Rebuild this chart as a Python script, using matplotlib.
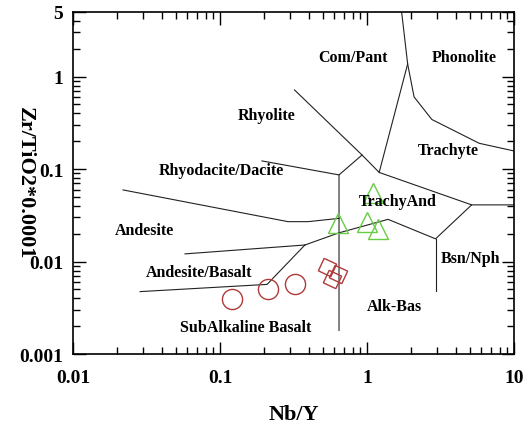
"""Winchester & Floyd Zr/TiO2 vs Nb/Y discrimination diagram."""
import matplotlib
matplotlib.use("Agg")
import matplotlib.pyplot as plt

# field boundaries (Nb/Y, Zr/TiO2*0.0001)
phon_x = [1.72, 1.89, 2.09, 2.76, 5.8, 10.0]
phon_y = [5.0, 1.37, 0.603, 0.344, 0.19, 0.157]
compant_x = [1.89, 1.21]
compant_y = [1.37, 0.092]
rhyo_x = [0.321, 0.925, 1.21, 5.15, 10.0]
rhyo_y = [0.718, 0.142, 0.092, 0.041, 0.041]
trachyand_x = [0.925, 0.645, 0.645]
trachyand_y = [0.142, 0.0865, 0.0018]
rhyodac_x = [0.193, 0.645]
rhyodac_y = [0.1225, 0.0865]
andes_x = [0.0219, 0.290, 0.397, 0.645]
andes_y = [0.0595, 0.0270, 0.0270, 0.0293]
andbas_x = [0.0578, 0.378]
andbas_y = [0.0121, 0.0151]
alkbas_x = [0.378, 0.642, 1.39, 2.925, 5.15]
alkbas_y = [0.0151, 0.0204, 0.0286, 0.0176, 0.041]
bsnnph_x = [2.925, 2.925]
bsnnph_y = [0.0176, 0.00482]
subalk_x = [0.0286, 0.209, 0.378]
subalk_y = [0.00473, 0.00566, 0.0151]

boundaries = [
    (phon_x, phon_y), (compant_x, compant_y), (rhyo_x, rhyo_y),
    (trachyand_x, trachyand_y), (rhyodac_x, rhyodac_y), (andes_x, andes_y),
    (andbas_x, andbas_y), (alkbas_x, alkbas_y), (bsnnph_x, bsnnph_y),
    (subalk_x, subalk_y),
]

# samples
circle_x = [0.120, 0.213, 0.324]
circle_y = [0.00394, 0.00506, 0.00573]
diamond_x = [0.535, 0.635, 0.578]
diamond_y = [0.00875, 0.00736, 0.00641]
tri_x = [0.630, 0.995, 1.194, 1.104]
tri_y = [0.0262, 0.0270, 0.0225, 0.0545]

# field names
field_names = ["Com/Pant", "Phonolite", "Rhyolite", "Trachyte",
               "Rhyodacite/Dacite", "TrachyAnd", "Andesite", "Andesite/Basalt",
               "Bsn/Nph", "Alk-Bas", "SubAlkaline Basalt"]
field_x = [0.804, 4.62, 0.206, 3.56, 0.1016, 1.625, 0.0304, 0.0715, 5.06, 1.54, 0.150]
field_y = [1.63, 1.63, 0.385, 0.161, 0.098, 0.0453, 0.022, 0.00773, 0.0108, 0.00332, 0.00197]

xticks = [0.01, 0.1, 1, 10]
xtick_labels = ["0.01", "0.1", "1", "10"]
yticks = [0.001, 0.01, 0.1, 1, 5]
ytick_labels = ["0.001", "0.01", "0.1", "1", "5"]

SERIF = "Liberation Serif"

fig = plt.figure(figsize=(5.31, 4.27), dpi=100)
ax = fig.add_axes([0.1375, 0.1686, 0.8305, 0.801])

for xs, ys in boundaries:
    ax.plot(xs, ys, color="#222222", lw=0.8)

ax.plot(circle_x, circle_y, "o", ms=14.5, mfc="none", mec="#b03a3a", mew=1.0)
ax.plot(diamond_x, diamond_y, marker=(4, 0, 20), ls="none", ms=14, mfc="none",
        mec="#b03a3a", mew=1.0)
ax.plot(tri_x, tri_y, "^", ms=14, mfc="none", mec="#66cc44", mew=1.0)

for name, x, y in zip(field_names, field_x, field_y):
    ax.text(x, y, name, ha="center", va="center", fontsize=11.5,
            fontweight="bold", family=SERIF)

ax.set_xscale("log")
ax.set_yscale("log")
ax.set_xlim(0.01, 10)
ax.set_ylim(0.001, 5)
ax.set_xticks(xticks)
ax.set_xticklabels(xtick_labels)
ax.set_yticks(yticks)
ax.set_yticklabels(ytick_labels)
ax.tick_params(which="both", direction="in", top=True, right=True, width=1)
ax.tick_params(which="major", length=9)
ax.tick_params(which="minor", length=5)
ax.tick_params(axis="x", which="major", pad=11)
ax.tick_params(axis="y", which="major", pad=7)
for lab in ax.get_xticklabels() + ax.get_yticklabels():
    lab.set_family(SERIF)
    lab.set_fontweight("bold")
    lab.set_fontsize(14)
for sp in ax.spines.values():
    sp.set_linewidth(1.2)

ax.set_xlabel("Nb/Y", family=SERIF, fontweight="bold", fontsize=16, labelpad=13)
ax.set_ylabel("Zr/TiO2*0.0001", family=SERIF, fontweight="bold", fontsize=16,
              rotation=270, va="center")
ax.yaxis.set_label_coords(-0.109, 0.503)

fig.savefig("out.png", dpi=100)
